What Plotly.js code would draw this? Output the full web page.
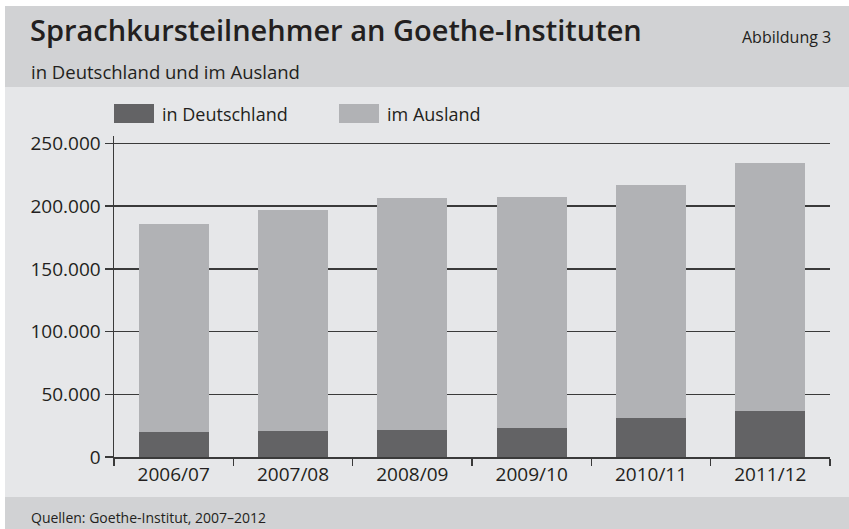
<!DOCTYPE html>
<html><head><meta charset="utf-8">
<script src="https://cdn.plot.ly/plotly-3.0.1.min.js"></script>
<style>html,body{margin:0;padding:0;background:#fff;}#chart{width:849px;height:529px;}</style>
</head><body><div id="chart"></div>
<script>
const categories = ['2006/07','2007/08','2008/09','2009/10','2010/11','2011/12'];
const inDeutschland = [20000, 20700, 21500, 23100, 31100, 36700];
const imAusland = [166000, 176300, 185000, 184200, 185800, 197700];
const seriesNames = ['in Deutschland', 'im Ausland'];
const yTickValues = [0, 50000, 100000, 150000, 200000, 250000];

const W = 849, H = 529, L = 114, R = 830, T = 136, B = 457;
const px = x => (x - L) / (R - L);
const py = y => (B - y) / (B - T);
const FONT = 'Open Sans, sans-serif';
const TXT = '#231f20';
const DARK = '#636365', LIGHT = '#b1b2b5';

const traces = [
  {type: 'bar', name: seriesNames[0], x: categories, y: inDeutschland, marker: {color: DARK, line: {width: 0}}, hoverinfo: 'skip'},
  {type: 'bar', name: seriesNames[1], x: categories, y: imAusland, marker: {color: LIGHT, line: {width: 0}}, hoverinfo: 'skip'}
];

const rect = (x0, y0, x1, y1, color) => ({type: 'rect', xref: 'paper', yref: 'paper', x0: px(x0), x1: px(x1), y0: py(y1), y1: py(y0), fillcolor: color, line: {width: 0}, layer: 'below'});

const layout = {
  width: W, height: H,
  margin: {l: L, r: W - R, t: T, b: H - B, pad: 0},
  paper_bgcolor: '#ffffff',
  plot_bgcolor: 'rgba(0,0,0,0)',
  separators: ',.',
  barmode: 'stack',
  bargap: 0.414,
  showlegend: false,
  font: {family: FONT, color: TXT, size: 19},
  xaxis: {
    type: 'category', tickson: 'boundaries', ticks: 'outside', ticklen: 7, tickwidth: 1.5, tickcolor: '#3a3a3a',
    showline: true, linecolor: '#3a3a3a', linewidth: 1.5, showgrid: false, zeroline: false,
    tickfont: {family: FONT, size: 19, color: TXT}, fixedrange: true
  },
  yaxis: {
    range: [0, 256000], tickvals: yTickValues, tickformat: ',d', ticks: 'outside', ticklen: 8, tickwidth: 1.5, tickcolor: '#3a3a3a',
    showline: true, linecolor: '#3a3a3a', linewidth: 1.5, showgrid: true, gridcolor: '#3a3a3a', gridwidth: 1.5, zeroline: false,
    tickfont: {family: FONT, size: 19, color: TXT}, fixedrange: true
  },
  title: {
    text: 'Sprachkursteilnehmer an Goethe-Instituten',
    xref: 'container', yref: 'container', x: 30 / W, xanchor: 'left', y: 1 - 31 / H, yanchor: 'middle',
    font: {family: FONT, size: 29, weight: 600, color: TXT}
  },
  shapes: [
    rect(5, 6, W, 87, '#d1d2d4'),
    rect(5, 87, W, 497, '#e6e7e9'),
    rect(5, 497, W, H, '#d1d2d4'),
    rect(114, 104, 154, 123, DARK),
    rect(339, 104, 379, 123, LIGHT)
  ],
  annotations: [
    {text: 'in Deutschland und im Ausland', xref: 'paper', yref: 'paper', x: px(29), y: py(71), xanchor: 'left', yanchor: 'middle', showarrow: false, font: {family: FONT, size: 18.5, color: TXT}},
    {text: 'Abbildung 3', xref: 'paper', yref: 'paper', x: px(833), y: py(37), xanchor: 'right', yanchor: 'middle', showarrow: false, font: {family: FONT, size: 16, color: TXT}},
    {text: seriesNames[0], xref: 'paper', yref: 'paper', x: px(160), y: py(114), xanchor: 'left', yanchor: 'middle', showarrow: false, font: {family: FONT, size: 18, color: TXT}},
    {text: seriesNames[1], xref: 'paper', yref: 'paper', x: px(385), y: py(114), xanchor: 'left', yanchor: 'middle', showarrow: false, font: {family: FONT, size: 18, color: TXT}},
    {text: 'Quellen: Goethe-Institut, 2007–2012', xref: 'paper', yref: 'paper', x: px(29), y: py(517), xanchor: 'left', yanchor: 'middle', showarrow: false, font: {family: FONT, size: 14, color: TXT}}
  ]
};

Plotly.newPlot('chart', traces, layout, {displayModeBar: false, staticPlot: true});
</script>
</body></html>
